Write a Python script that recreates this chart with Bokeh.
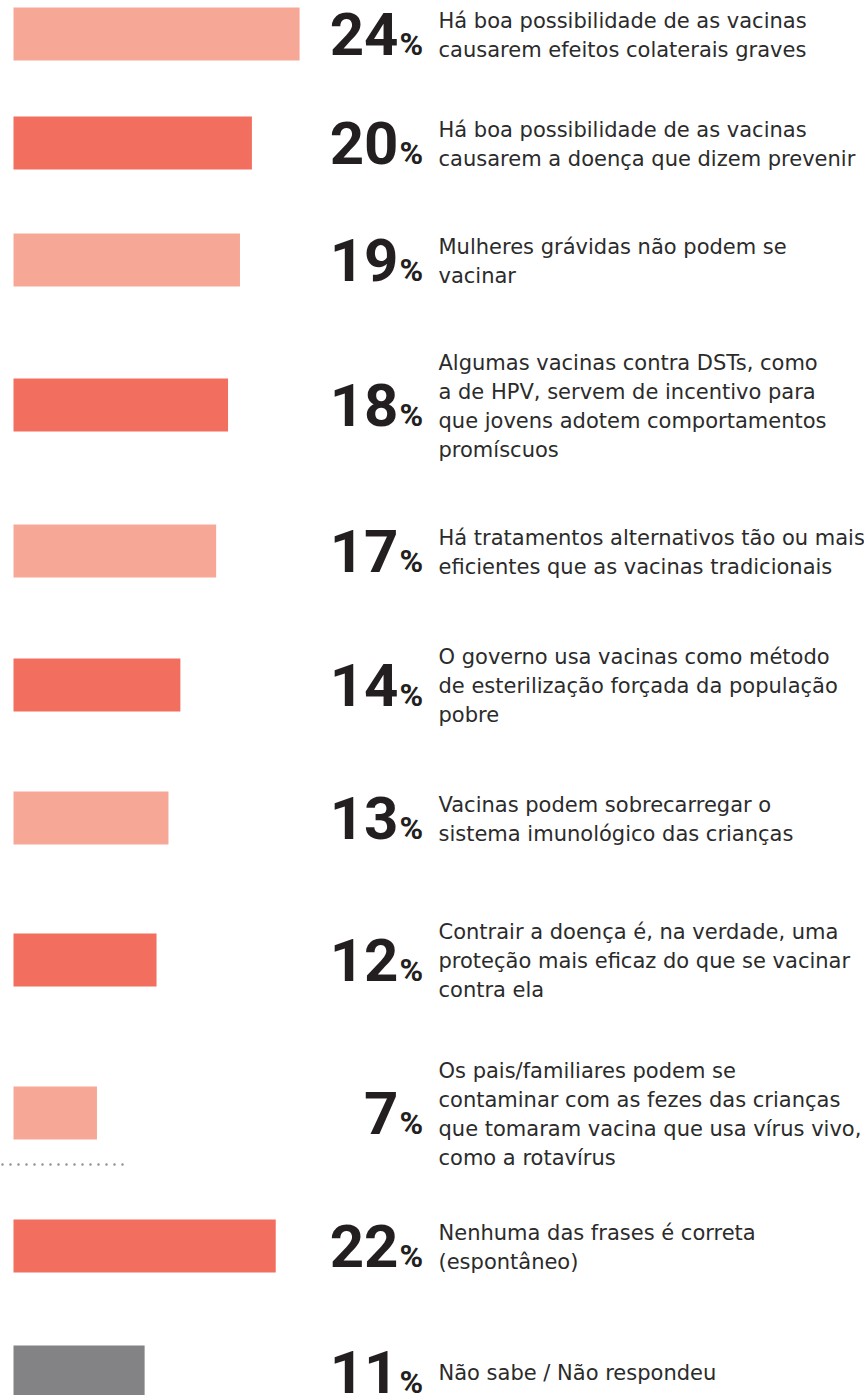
from bokeh.plotting import figure
from bokeh.models import Range1d, ColumnDataSource
from bokeh.core.properties import value
from bokeh.embed import file_html
from bokeh.resources import INLINE

# ---------------- data ----------------
values = [24, 20, 19, 18, 17, 14, 13, 12, 7, 22, 11]
labels = [
    ["Há boa possibilidade de as vacinas", "causarem efeitos colaterais graves"],
    ["Há boa possibilidade de as vacinas", "causarem a doença que dizem prevenir"],
    ["Mulheres grávidas não podem se", "vacinar"],
    ["Algumas vacinas contra DSTs, como", "a de HPV, servem de incentivo para",
     "que jovens adotem comportamentos", "promíscuos"],
    ["Há tratamentos alternativos tão ou mais", "eficientes que as vacinas tradicionais"],
    ["O governo usa vacinas como método", "de esterilização forçada da população", "pobre"],
    ["Vacinas podem sobrecarregar o", "sistema imunológico das crianças"],
    ["Contrair a doença é, na verdade, uma", "proteção mais eficaz do que se vacinar",
     "contra ela"],
    ["Os pais/familiares podem se", "contaminar com as fezes das crianças",
     "que tomaram vacina que usa vírus vivo,", "como a rotavírus"],
    ["Nenhuma das frases é correta", "(espontâneo)"],
    ["Não sabe / Não respondeu"],
]
kinds = ["light", "dark", "light", "dark", "light", "dark", "light", "dark", "light", "dark", "none"]

# ---------------- layout / style ----------------
palette = {"light": "#F6A795", "dark": "#F26F60", "none": "#838386"}
row_centers = [33.5, 142.5, 259.5, 404.5, 550.5, 684.5, 817.5, 959.5, 1112.5, 1245.5, 1371.5]
BAR_H = 53
W, H = 864, 1395
PX_PER_UNIT = 11.92
X0_PX = 13  # pixel position of zero inside the figure
x_start = -X0_PX / PX_PER_UNIT
x_end = x_start + W / PX_PER_UNIT


def px_x(sx):
    return x_start + sx / PX_PER_UNIT


p = figure(width=W, height=H, output_backend="svg", toolbar_location=None,
           x_range=Range1d(x_start, x_end), y_range=Range1d(H, 0),
           min_border=0, outline_line_color=None)
p.axis.visible = False
p.grid.visible = False
p.background_fill_color = "white"
p.border_fill_color = "white"

bars = ColumnDataSource(dict(
    y=row_centers, right=values, left=[0] * len(values),
    color=[palette[k] for k in kinds]))
p.hbar(y="y", left="left", right="right", height=BAR_H, color="color",
       line_color=None, source=bars)

# big numbers
NUM_FS = 60
PCT_FS = 32
num_src = ColumnDataSource(dict(
    x=[px_x(398)] * len(values), y=[c - 0.5 for c in row_centers],
    t=[str(v) for v in values]))
p.text(x="x", y="y", text="t", source=num_src, text_font=value("Roboto"),
       text_font_style="bold", text_font_size=f"{NUM_FS}px", text_color="#231F20",
       text_align="right", text_baseline="middle")
pct_src = ColumnDataSource(dict(
    x=[px_x(399)] * len(values), y=[c + 9.5 for c in row_centers],
    t=["%"] * len(values)))
p.text(x="x", y="y", text="t", source=pct_src, text_font=value("Roboto"),
       text_font_style="bold", text_font_size=f"{PCT_FS}px", text_color="#231F20",
       text_align="left", text_baseline="middle")

# labels
LINE_H = 29
lx, ly, lt = [], [], []
for c, lines in zip(row_centers, labels):
    n = len(lines)
    for i, line in enumerate(lines):
        lx.append(px_x(438))
        ly.append(c + 1 - (n - 1) * LINE_H / 2 + i * LINE_H)
        lt.append(line)
lab_src = ColumnDataSource(dict(x=lx, y=ly, t=lt))
p.text(x="x", y="y", text="t", source=lab_src, text_font=value("DejaVu Sans"),
       text_font_size="21px", text_color="#2B2B2B", text_align="left",
       text_baseline="middle")

# dotted separator
p.line(x=[px_x(2), px_x(130)], y=[1164, 1164], line_color="#939393",
       line_width=2.6, line_dash="0 8", line_cap="round")

open("out.html", "w").write(file_html(p, INLINE))
